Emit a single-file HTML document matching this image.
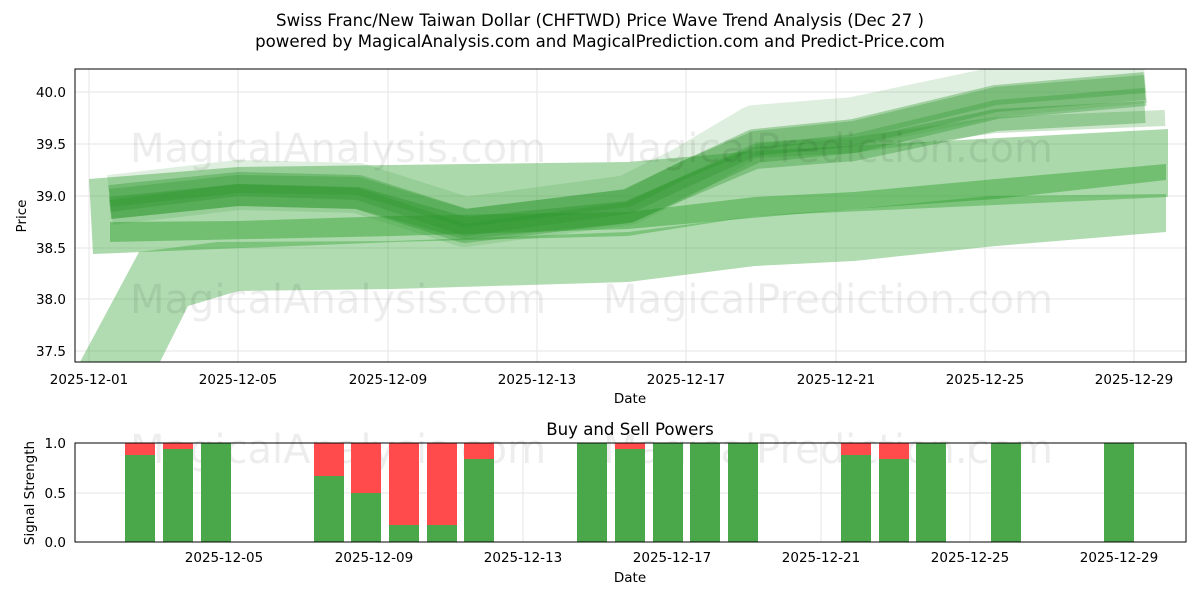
<!DOCTYPE html><html><head><style>body{margin:0;background:#fff;font-family:"DejaVu Sans","Liberation Sans",sans-serif}</style></head><body>
<svg width="1200" height="600" xmlns="http://www.w3.org/2000/svg" font-family="DejaVu Sans, Liberation Sans, sans-serif">
<rect width="1200" height="600" fill="#fff"/>
<text x="600" y="26" font-size="16.6" text-anchor="middle">Swiss Franc/New Taiwan Dollar (CHFTWD) Price Wave Trend Analysis (Dec 27 )</text>
<text x="600" y="47" font-size="16.6" text-anchor="middle">powered by MagicalAnalysis.com and MagicalPrediction.com and Predict-Price.com</text>
<defs><clipPath id="c1"><rect x="75" y="69" width="1111" height="293"/></clipPath></defs>
<g stroke="#e6e6e6" stroke-width="1">
<line x1="89" y1="69" x2="89" y2="362"/><line x1="238" y1="69" x2="238" y2="362"/><line x1="388" y1="69" x2="388" y2="362"/><line x1="537" y1="69" x2="537" y2="362"/><line x1="686" y1="69" x2="686" y2="362"/><line x1="836" y1="69" x2="836" y2="362"/><line x1="985" y1="69" x2="985" y2="362"/><line x1="1134" y1="69" x2="1134" y2="362"/>
<line x1="75" y1="92" x2="1186" y2="92"/><line x1="75" y1="144" x2="1186" y2="144"/><line x1="75" y1="196" x2="1186" y2="196"/><line x1="75" y1="248" x2="1186" y2="248"/><line x1="75" y1="299" x2="1186" y2="299"/><line x1="75" y1="351" x2="1186" y2="351"/>
</g>
<g clip-path="url(#c1)">
<polygon fill="#2ca02c" fill-opacity="0.37" points="80,362 139,252 217,242 394,241 628,232 755,216 854,209 989,196 1166,194 1166,232 996,246 854,261 755,266 628,282 394,289 238,291 188,306 160,362"/>
<polygon fill="#2ca02c" fill-opacity="0.4" points="89,179 238,167 628,162 755,151 1168,129 1168,197 755,216 628,236 394,242 93,254"/>
<polygon fill="#2ca02c" fill-opacity="0.45" points="110,222 238,221 394,216 628,212 755,197 854,192 996,179 1166,164 1166,180 996,199 854,209 628,229 394,236 110,242"/>
<g fill="none" stroke="#2a962a" stroke-linejoin="round">
<polyline stroke-opacity="0.15" stroke-width="50" points="110,200 238,185 358,188 465,222 628,200 684,172 755,130 854,122 996,92 1145,78"/>
<polyline stroke-opacity="0.35" stroke-width="34" points="110,202 238,189 358,192 465,226 628,206 684,179 755,146 854,136 996,102 1145,89"/>
<polyline stroke-opacity="0.35" stroke-width="22" points="110,208 238,195 358,198 465,228 628,212 684,188 755,158 854,150 996,120 1145,112"/>
<polyline stroke-opacity="0.3" stroke-width="18" points="110,198 238,184 358,186 465,218 628,198 684,170 755,140 854,130 996,96 1145,84"/>
<polyline stroke-opacity="0.25" stroke-width="16" points="755,150 854,145 996,125 1165,118"/>
<polyline stroke-opacity="0.3" stroke-width="12" points="110,206 238,190 358,194 465,230 628,208 684,182 755,150 854,140 996,106 1145,94"/>
</g>
</g>
<g fill="#000" fill-opacity="0.07" font-size="40"><text x="130" y="162">MagicalAnalysis.com</text><text x="603" y="162">MagicalPrediction.com</text><text x="130" y="313">MagicalAnalysis.com</text><text x="603" y="313">MagicalPrediction.com</text><text x="130" y="463">MagicalAnalysis.com</text><text x="603" y="463">MagicalPrediction.com</text></g>
<rect x="75" y="69" width="1111" height="293" fill="none" stroke="#000" stroke-width="1"/>
<g font-size="13.5" text-anchor="middle">
<text x="89" y="384">2025-12-01</text><text x="238" y="384">2025-12-05</text><text x="388" y="384">2025-12-09</text><text x="537" y="384">2025-12-13</text><text x="686" y="384">2025-12-17</text><text x="836" y="384">2025-12-21</text><text x="985" y="384">2025-12-25</text><text x="1134" y="384">2025-12-29</text>
<text x="630" y="403">Date</text></g>
<g font-size="13.5" text-anchor="end"><text x="66" y="97">40.0</text><text x="66" y="149">39.5</text><text x="66" y="201">39.0</text><text x="66" y="253">38.5</text><text x="66" y="304">38.0</text><text x="66" y="356">37.5</text></g>
<text x="26" y="216" font-size="13.5" text-anchor="middle" transform="rotate(-90 26 216)">Price</text>
<text x="630" y="435" font-size="16.6" text-anchor="middle">Buy and Sell Powers</text>
<g stroke="#e6e6e6"><line x1="75" y1="493" x2="1186" y2="493"/><line x1="224" y1="443" x2="224" y2="542"/><line x1="374" y1="443" x2="374" y2="542"/><line x1="523" y1="443" x2="523" y2="542"/><line x1="672" y1="443" x2="672" y2="542"/><line x1="821" y1="443" x2="821" y2="542"/><line x1="970" y1="443" x2="970" y2="542"/><line x1="1119" y1="443" x2="1119" y2="542"/></g>
<g>
<rect x="125" y="443" width="30" height="99" fill="#ff4b4b"/><rect x="125" y="455" width="30" height="87" fill="#4aa84a"/>
<rect x="163" y="443" width="30" height="99" fill="#ff4b4b"/><rect x="163" y="449" width="30" height="93" fill="#4aa84a"/>
<rect x="201" y="443" width="30" height="99" fill="#4aa84a"/>
<rect x="314" y="443" width="30" height="99" fill="#ff4b4b"/><rect x="314" y="476" width="30" height="66" fill="#4aa84a"/>
<rect x="351" y="443" width="30" height="99" fill="#ff4b4b"/><rect x="351" y="493" width="30" height="49" fill="#4aa84a"/>
<rect x="389" y="443" width="30" height="99" fill="#ff4b4b"/><rect x="389" y="525" width="30" height="17" fill="#4aa84a"/>
<rect x="427" y="443" width="30" height="99" fill="#ff4b4b"/><rect x="427" y="525" width="30" height="17" fill="#4aa84a"/>
<rect x="464" y="443" width="30" height="99" fill="#ff4b4b"/><rect x="464" y="459" width="30" height="83" fill="#4aa84a"/>
<rect x="577" y="443" width="30" height="99" fill="#4aa84a"/>
<rect x="615" y="443" width="30" height="99" fill="#ff4b4b"/><rect x="615" y="449" width="30" height="93" fill="#4aa84a"/>
<rect x="653" y="443" width="30" height="99" fill="#4aa84a"/>
<rect x="690" y="443" width="30" height="99" fill="#4aa84a"/>
<rect x="728" y="443" width="30" height="99" fill="#4aa84a"/>
<rect x="841" y="443" width="30" height="99" fill="#ff4b4b"/><rect x="841" y="455" width="30" height="87" fill="#4aa84a"/>
<rect x="879" y="443" width="30" height="99" fill="#ff4b4b"/><rect x="879" y="459" width="30" height="83" fill="#4aa84a"/>
<rect x="916" y="443" width="30" height="99" fill="#4aa84a"/>
<rect x="991" y="443" width="30" height="99" fill="#4aa84a"/>
<rect x="1104" y="443" width="30" height="99" fill="#4aa84a"/>
</g>
<rect x="75" y="443" width="1111" height="99" fill="none" stroke="#000"/>
<g font-size="13.5" text-anchor="end"><text x="66" y="448">1.0</text><text x="66" y="498">0.5</text><text x="66" y="547">0.0</text></g>
<text x="34" y="493" font-size="13.5" text-anchor="middle" transform="rotate(-90 34 493)">Signal Strength</text>
<g font-size="13.5" text-anchor="middle"><text x="224" y="562">2025-12-05</text><text x="374" y="562">2025-12-09</text><text x="523" y="562">2025-12-13</text><text x="672" y="562">2025-12-17</text><text x="821" y="562">2025-12-21</text><text x="970" y="562">2025-12-25</text><text x="1119" y="562">2025-12-29</text><text x="630" y="582">Date</text></g>
</svg>
</body></html>
